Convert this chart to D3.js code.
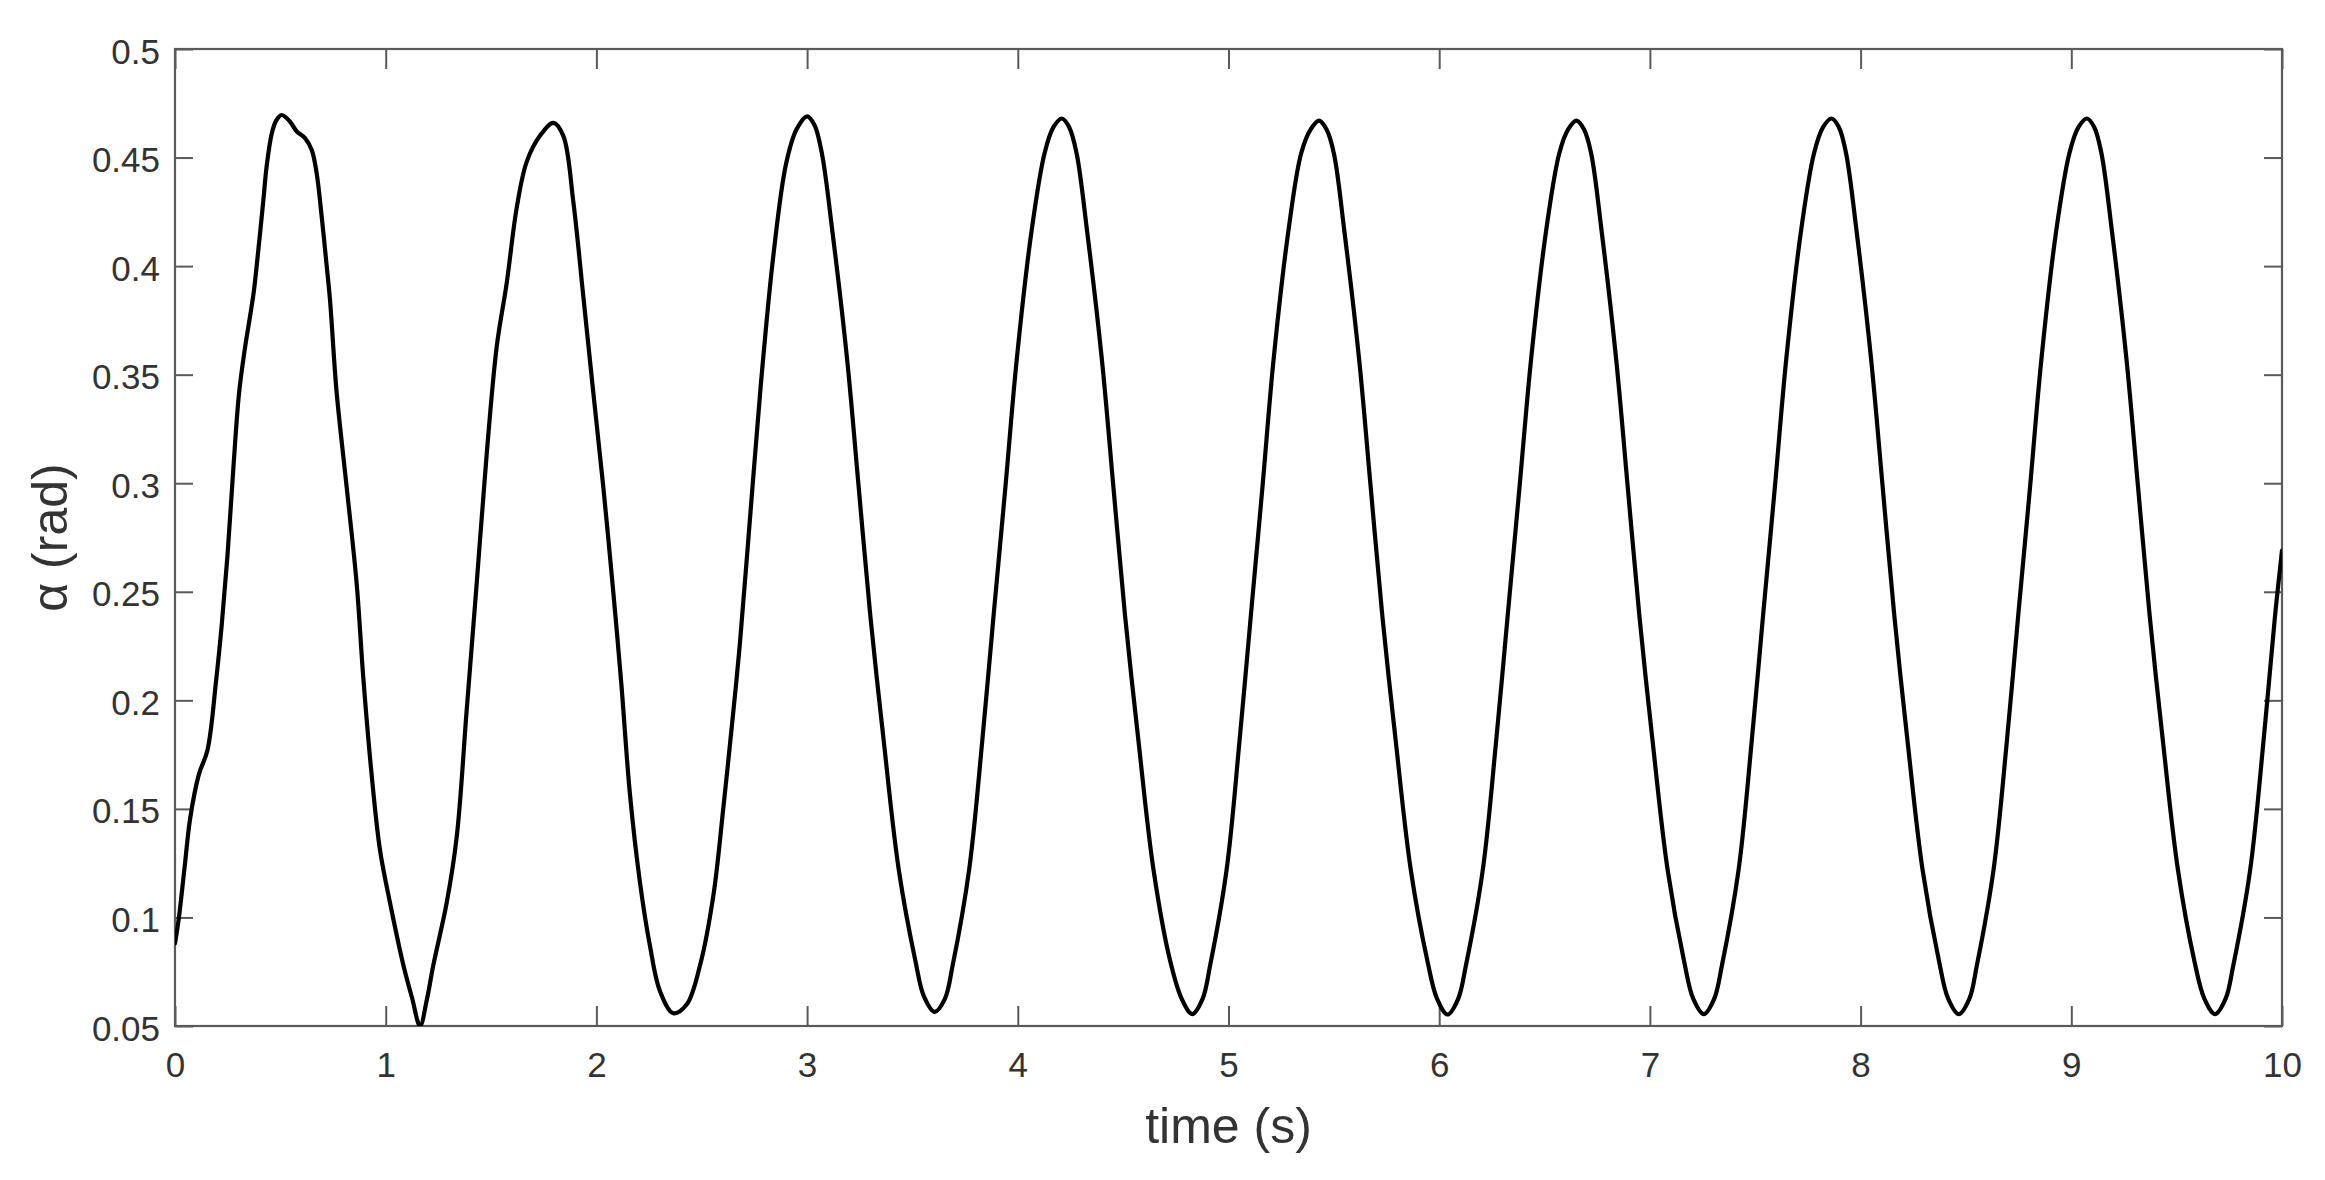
<!DOCTYPE html>
<html>
<head>
<meta charset="utf-8">
<script src="https://cdn.jsdelivr.net/npm/d3@7"></script>
<style>
  html, body { margin: 0; padding: 0; background: #fff; }
  svg { display: block; }
  text { font-family: "Liberation Sans", Arial, Helvetica, sans-serif; }
</style>
</head>
<body>
<svg id="chart" width="2325" height="1180"></svg>
<script>
// ---- data ----
const xTicks = [0, 1, 2, 3, 4, 5, 6, 7, 8, 9, 10];
const xTickLabels = ["0", "1", "2", "3", "4", "5", "6", "7", "8", "9", "10"];
const yTicks = [0.05, 0.1, 0.15, 0.2, 0.25, 0.3, 0.35, 0.4, 0.45, 0.5];
const yTickLabels = ["0.05", "0.1", "0.15", "0.2", "0.25", "0.3", "0.35", "0.4", "0.45", "0.5"];
const xLabel = "time (s)";
const yLabel = "\u03B1 (rad)";

const time = [
  0, 0.018, 0.045, 0.072, 0.113, 0.154, 0.195, 0.222, 0.249, 0.277,
  0.304, 0.331, 0.358, 0.375, 0.395, 0.419, 0.435, 0.459, 0.48, 0.506,
  0.546, 0.578, 0.617, 0.649, 0.672, 0.696, 0.72, 0.736, 0.767, 0.815,
  0.862, 0.894, 0.933, 0.973, 1.02, 1.084, 1.125, 1.163, 1.195, 1.226,
  1.29, 1.337, 1.384, 1.432, 1.479, 1.527, 1.574, 1.622, 1.669, 1.732,
  1.796, 1.843, 1.89, 1.938, 1.985, 2.033, 2.08, 2.118, 2.159, 2.207,
  2.254, 2.302, 2.365, 2.429, 2.492, 2.555, 2.603, 2.65, 2.68, 2.73,
  2.78, 2.84, 2.9, 2.95, 3.0,
  3.035, 3.07, 3.12, 3.19, 3.245, 3.30, 3.364, 3.435, 3.514, 3.555, 3.605,
  3.654, 3.691, 3.769, 3.831, 3.885, 3.941, 3.995, 4.065, 4.127, 4.169, 4.209,
  4.244, 4.279, 4.329, 4.399, 4.454, 4.509, 4.573, 4.644, 4.723, 4.778, 4.828,
  4.877, 4.913, 4.991, 5.052, 5.106, 5.161, 5.214, 5.284, 5.345, 5.39, 5.43,
  5.465, 5.50, 5.55, 5.62, 5.675, 5.73, 5.794, 5.865, 5.944, 5.99, 6.04,
  6.09, 6.127, 6.207, 6.27, 6.325, 6.381, 6.436, 6.507, 6.57, 6.612, 6.652,
  6.687, 6.721, 6.771, 6.84, 6.895, 6.95, 7.013, 7.084, 7.162, 7.206, 7.256,
  7.305, 7.342, 7.421, 7.483, 7.537, 7.593, 7.647, 7.717, 7.779, 7.822, 7.862,
  7.897, 7.931, 7.981, 8.05, 8.105, 8.16, 8.223, 8.294, 8.372, 8.416, 8.466,
  8.516, 8.552, 8.631, 8.694, 8.748, 8.804, 8.858, 8.928, 8.991, 9.034, 9.074,
  9.109, 9.143, 9.193, 9.262, 9.317, 9.372, 9.435, 9.506, 9.584, 9.632, 9.682,
  9.732, 9.769, 9.849, 9.912, 9.967, 10.0
];

const alpha = [
  0.088, 0.0995, 0.1226, 0.1456, 0.1658, 0.177, 0.209, 0.235, 0.2666, 0.307,
  0.3415, 0.3616, 0.378, 0.389, 0.407, 0.430, 0.446, 0.461, 0.467, 0.4696,
  0.4665, 0.462, 0.459, 0.4535, 0.443, 0.423, 0.400, 0.384, 0.342, 0.298,
  0.254, 0.210, 0.166, 0.131, 0.107, 0.078, 0.063, 0.050, 0.062, 0.078,
  0.107, 0.137, 0.195, 0.254, 0.313, 0.363, 0.392, 0.427, 0.448, 0.460,
  0.466, 0.460, 0.430, 0.386, 0.342, 0.298, 0.25, 0.208, 0.157, 0.116,
  0.087, 0.066, 0.0559, 0.060, 0.078, 0.110, 0.151, 0.195, 0.225, 0.285,
  0.345, 0.405, 0.447, 0.463, 0.469,
  0.465, 0.452, 0.416, 0.357, 0.298, 0.239, 0.181, 0.122, 0.080, 0.0635, 0.0565,
  0.0625, 0.078, 0.122, 0.181, 0.239, 0.298, 0.357, 0.416, 0.452, 0.464, 0.468,
  0.464, 0.452, 0.416, 0.357, 0.298, 0.239, 0.181, 0.122, 0.080, 0.0625, 0.0555,
  0.0625, 0.078, 0.122, 0.181, 0.239, 0.298, 0.357, 0.416, 0.452, 0.463, 0.467,
  0.463, 0.452, 0.416, 0.357, 0.298, 0.239, 0.181, 0.122, 0.080, 0.0625, 0.0553,
  0.0625, 0.078, 0.122, 0.181, 0.239, 0.298, 0.357, 0.416, 0.452, 0.463, 0.467,
  0.463, 0.452, 0.416, 0.357, 0.298, 0.239, 0.181, 0.122, 0.080, 0.0625, 0.0555,
  0.0625, 0.078, 0.122, 0.181, 0.239, 0.298, 0.357, 0.416, 0.452, 0.464, 0.468,
  0.464, 0.452, 0.416, 0.357, 0.298, 0.239, 0.181, 0.122, 0.080, 0.0625, 0.0555,
  0.0625, 0.078, 0.122, 0.181, 0.239, 0.298, 0.357, 0.416, 0.452, 0.464, 0.468,
  0.464, 0.452, 0.416, 0.357, 0.298, 0.239, 0.181, 0.122, 0.080, 0.0625, 0.0555,
  0.0625, 0.078, 0.122, 0.181, 0.239, 0.269
];

// ---- layout ----
const W = 2325, H = 1180;
const plot = { left: 175, right: 2282, top: 49, bottom: 1026 };
const axisColor = "#5a5a5a";
const textColor = "#333333";

const svg = d3.select("#chart");
svg.append("rect").attr("width", W).attr("height", H).attr("fill", "#fff");

const x = d3.scaleLinear().domain([0, 10]).range([plot.left, plot.right]);
const y = d3.scaleLinear().domain([0.05, 0.5]).range([plot.bottom, plot.top]);

svg.append("defs").append("clipPath").attr("id", "clip")
  .append("rect")
  .attr("x", plot.left).attr("y", plot.top)
  .attr("width", plot.right - plot.left).attr("height", plot.bottom - plot.top);

function styleAxis(g) {
  g.select(".domain").remove();
  g.selectAll(".tick line").attr("stroke", axisColor).attr("stroke-width", 2);
  g.selectAll(".tick text").attr("fill", textColor).attr("font-size", 35)
    .attr("font-family", '"Liberation Sans", Arial, Helvetica, sans-serif');
}

const xFmt = (d) => xTickLabels[xTicks.indexOf(d)];
const yFmt = (d) => yTickLabels[yTicks.findIndex(v => Math.abs(v - d) < 1e-9)];

svg.append("g")
  .attr("transform", `translate(0,${plot.bottom})`)
  .call(d3.axisBottom(x).tickValues(xTicks).tickFormat(xFmt)
    .tickSizeInner(-20).tickSizeOuter(0).tickPadding(26))
  .call(styleAxis);

svg.append("g")
  .attr("transform", `translate(0,${plot.top})`)
  .call(d3.axisTop(x).tickValues(xTicks).tickFormat("")
    .tickSizeInner(-20).tickSizeOuter(0))
  .call(styleAxis);

const yAxisG = svg.append("g")
  .attr("transform", `translate(${plot.left},0)`)
  .call(d3.axisLeft(y).tickValues(yTicks).tickFormat(yFmt)
    .tickSizeInner(-18).tickSizeOuter(0).tickPadding(15))
  .call(styleAxis);
yAxisG.selectAll(".tick text").attr("dy", "0.4em");

svg.append("g")
  .attr("transform", `translate(${plot.right},0)`)
  .call(d3.axisRight(y).tickValues(yTicks).tickFormat("")
    .tickSizeInner(-18).tickSizeOuter(0))
  .call(styleAxis);

svg.append("rect")
  .attr("x", plot.left).attr("y", plot.top)
  .attr("width", plot.right - plot.left).attr("height", plot.bottom - plot.top)
  .attr("fill", "none").attr("stroke", axisColor).attr("stroke-width", 2.2);

const pts = time.map((t, i) => [t, alpha[i]]);
const line = d3.line()
  .x(d => x(d[0]))
  .y(d => y(d[1]))
  .curve(d3.curveCatmullRom.alpha(0.5));

svg.append("path")
  .datum(pts)
  .attr("clip-path", "url(#clip)")
  .attr("d", line)
  .attr("fill", "none")
  .attr("stroke", "#000")
  .attr("stroke-width", 4.2)
  .attr("stroke-linejoin", "round")
  .attr("stroke-linecap", "round");

svg.append("text")
  .attr("x", (plot.left + plot.right) / 2)
  .attr("y", 1143)
  .attr("text-anchor", "middle")
  .attr("font-size", 50)
  .attr("fill", textColor)
  .text(xLabel);

svg.append("text")
  .attr("transform", `translate(67,${(plot.top + plot.bottom) / 2}) rotate(-90)`)
  .attr("text-anchor", "middle")
  .attr("font-size", 50)
  .attr("fill", textColor)
  .text(yLabel);
</script>
</body>
</html>
